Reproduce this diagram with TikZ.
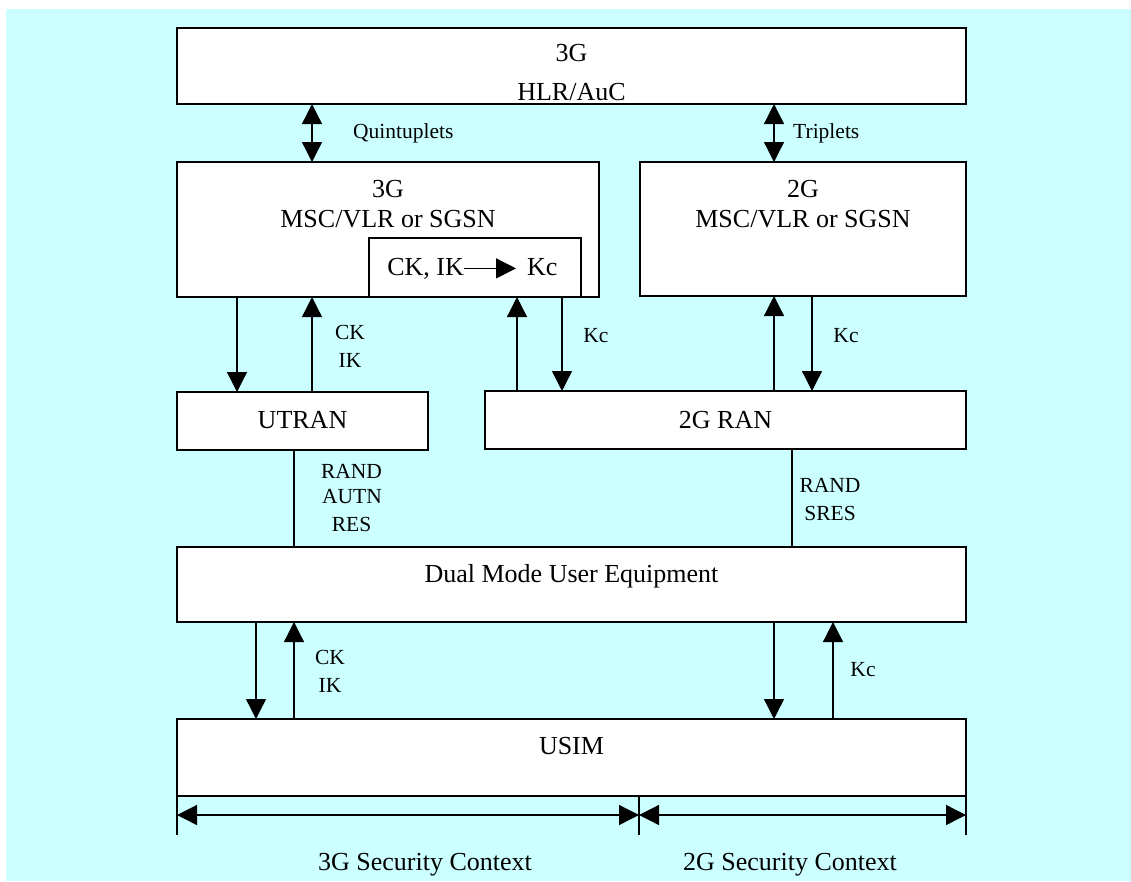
\documentclass[tikz,border=0pt]{standalone}
\usepackage{fontspec}
\setmainfont{Liberation Serif}
\usetikzlibrary{arrows.meta}
\definecolor{panelcyan}{RGB}{204,255,255}
\begin{document}
\begin{tikzpicture}[x=1pt,y=-1pt,
  box/.style={draw, fill=white, line width=1.6pt, inner sep=0pt, outer sep=0pt, anchor=north west},
  big/.style={font=\fontsize{26}{30}\selectfont, inner sep=0pt, anchor=base},
  small/.style={font=\fontsize{21.5}{25}\selectfont, inner sep=0pt, anchor=base},
  arr/.style={line width=1.3pt, -{Triangle[length=20pt,width=20pt]}},
  darr/.style={line width=1.3pt, {Triangle[length=20pt,width=20pt]}-{Triangle[length=20pt,width=20pt]}},
  plain/.style={line width=1.3pt},
]
\useasboundingbox (0,0) rectangle (1131,881);
\fill[white] (0,0) rectangle (1131,881);
\fill[panelcyan] (6,9) rectangle (1131,881);

% boxes
\node[box, minimum width=789pt, minimum height=76pt]  (hlr)   at (177,28)  {};
\node[box, minimum width=422pt, minimum height=135pt] (msc3)  at (177,162) {};
\node[box, minimum width=212pt, minimum height=59pt]  (inner) at (369,238) {};
\node[box, minimum width=326pt, minimum height=134pt] (msc2)  at (640,162) {};
\node[box, minimum width=251pt, minimum height=58pt]  (utran) at (177,392) {};
\node[box, minimum width=481pt, minimum height=58pt]  (ran2)  at (485,391) {};
\node[box, minimum width=789pt, minimum height=75pt]  (ue)    at (177,547) {};
\node[box, minimum width=789pt, minimum height=77pt]  (usim)  at (177,719) {};

% box texts
\node[big] (hlrA) at (571.5,61)  {3G};
\node[big] (hlrB) at (571.5,100) {HLR/AuC};
\node[big] (mscA) at (388,197)   {3G};
\node[big] (mscB) at (388,227)   {MSC/VLR or SGSN};
\node[big] (gsmA) at (803,197)   {2G};
\node[big] (gsmB) at (803,227)   {MSC/VLR or SGSN};
\node[big] (utranT) at (302.5,428) {UTRAN};
\node[big] (ranT)   at (725.5,428) {2G RAN};
\node[big] (ueT)    at (571.5,582) {Dual Mode User Equipment};
\node[big] (usimT)  at (571.5,754) {USIM};

% key conversion inside the 3G serving node
\node[big, anchor=base east] (ckik) at (464,275) {CK, IK};
\node[big, anchor=base west] (kcin) at (527,275) {Kc};
\coordinate (kcstop) at ([xshift=-11pt]kcin.west);
\draw[arr] (ckik.east) -- (ckik.east -| kcstop);

% connector columns
\coordinate (cQ)  at (312,0);
\coordinate (cT)  at (774,0);
\coordinate (cA)  at (237,0);
\coordinate (cB)  at (517,0);
\coordinate (cC)  at (562,0);
\coordinate (cD)  at (812,0);
\coordinate (cE)  at (294,0);
\coordinate (cF)  at (792,0);
\coordinate (cG)  at (256,0);
\coordinate (cH)  at (833,0);
\coordinate (cM)  at (639,0);

% core network links
\draw[darr] (hlr.south -| cQ) -- (msc3.north -| cQ);
\draw[darr] (hlr.south -| cT) -- (msc2.north -| cT);
\node[small, anchor=base west] (quint) at (353,138) {Quintuplets};
\node[small, anchor=base west] (trip)  at (793,138) {Triplets};

% serving nodes to radio access networks
\draw[arr] (msc3.south -| cA) -- (utran.north -| cA);
\draw[arr] (utran.north -| cQ) -- (msc3.south -| cQ);
\draw[arr] (ran2.north -| cB) -- (inner.south -| cB);
\draw[arr] (inner.south -| cC) -- (ran2.north -| cC);
\draw[arr] (ran2.north -| cT) -- (msc2.south -| cT);
\draw[arr] (msc2.south -| cD) -- (ran2.north -| cD);
\node[small] (ckA) at (350,339) {CK};
\node[small] (ikA) at (350,367) {IK};
\node[small] (kcA) at (596,342) {Kc};
\node[small] (kcB) at (846,342) {Kc};

% radio access networks to the terminal
\draw[plain] (utran.south -| cE) -- (ue.north -| cE);
\draw[plain] (ran2.south -| cF) -- (ue.north -| cF);
\node[small] (randA) at (351.5,478) {RAND};
\node[small] (autn)  at (352,503)   {AUTN};
\node[small] (res)   at (351.5,531) {RES};
\node[small] (randB) at (830,492)   {RAND};
\node[small] (sres)  at (830,520)   {SRES};

% terminal to USIM
\draw[arr] (ue.south -| cG) -- (usim.north -| cG);
\draw[arr] (usim.north -| cE) -- (ue.south -| cE);
\draw[arr] (ue.south -| cT) -- (usim.north -| cT);
\draw[arr] (usim.north -| cH) -- (ue.south -| cH);
\node[small] (ckB) at (330,664) {CK};
\node[small] (ikB) at (330,692) {IK};
\node[small] (kcC) at (863,676) {Kc};

% security context extents
\coordinate (tickend) at (0,835);
\coordinate (dimrow)  at (0,815);
\draw[plain] (usim.south west) -- (usim.south west |- tickend);
\draw[plain] (usim.south -| cM) -- (cM |- tickend);
\draw[plain] (usim.south east) -- (usim.south east |- tickend);
\draw[darr] (dimrow -| usim.west) -- (dimrow -| cM);
\draw[darr] (dimrow -| cM) -- (dimrow -| usim.east);
\node[big] (ctx3) at (425,870) {3G Security Context};
\node[big] (ctx2) at (790,870) {2G Security Context};
\end{tikzpicture}
\end{document}
